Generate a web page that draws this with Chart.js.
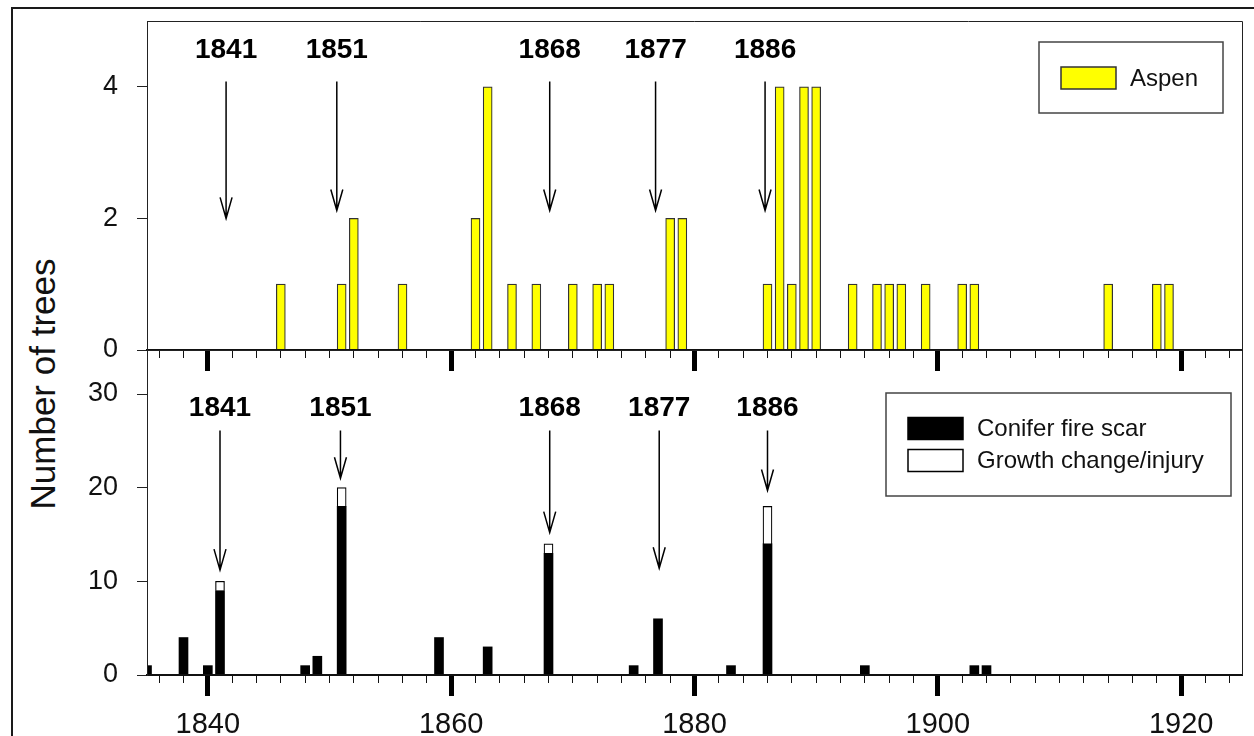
<!DOCTYPE html>
<html>
<head>
<meta charset="utf-8">
<script src="https://cdn.jsdelivr.net/npm/chart.js@4.4.1/dist/chart.umd.min.js"></script>
<style>
  html, body { margin: 0; padding: 0; background: #fff; }
  #wrap { position: relative; width: 1254px; height: 736px; overflow: hidden; }
  #wrap canvas { position: absolute; left: 0; top: 0; }
  #frame { position: absolute; left: 11px; top: 7px; width: 1300px; height: 800px; border: 2px solid #1a1a1a; }
  #ytitle {
    position: absolute; left: 42px; top: 384px;
    transform: translate(-50%, -50%) rotate(-90deg);
    font: 35px "Liberation Sans", Arial, sans-serif; line-height: 1;
    white-space: nowrap; color: #111;
  }
</style>
</head>
<body>
<div id="wrap">
  <div id="frame"></div>
  <div id="ytitle">Number of trees</div>
  <canvas id="topChart" width="1254" height="736"></canvas>
  <canvas id="bottomChart" width="1254" height="736"></canvas>
</div>
<script>
// aspen (top panel)
const aspenYears = [1846, 1851, 1852, 1856, 1862, 1863, 1865, 1867, 1870, 1872, 1873, 1878, 1879,
  1886, 1887, 1888, 1889, 1890, 1893, 1895, 1896, 1897, 1899, 1902, 1903, 1914, 1918, 1919];
const aspenCounts = [1, 1, 2, 1, 2, 4, 1, 1, 1, 1, 1, 2, 2,
  1, 4, 1, 4, 4, 1, 1, 1, 1, 1, 1, 1, 1, 1, 1];

// conifers (bottom panel)
const scarYears = [1835, 1838, 1840, 1841, 1848, 1849, 1851, 1859, 1863, 1868, 1875, 1877, 1883, 1886, 1894, 1903, 1904];
const scarCounts = [1, 4, 1, 9, 1, 2, 18, 4, 3, 13, 1, 6, 1, 14, 1, 1, 1];
const injuryYears = [1841, 1851, 1868, 1886];
const injuryCounts = [1, 2, 1, 4];

// fire year arrows
const fireYears = ["1841", "1851", "1868", "1877", "1886"];
const topArrowX = [1841.5, 1850.6, 1868.1, 1876.8, 1885.8];
const topArrowTip = [2.0, 2.12, 2.12, 2.12, 2.12];
const bottomArrowX = [1841, 1850.9, 1868.1, 1877.1, 1886];
const bottomArrowTip = [11.2, 21.0, 15.2, 11.4, 19.7];

// axes
const majorYears = [1840, 1860, 1880, 1900, 1920];
const minorYears = [];
for (let yr = 1836; yr <= 1924; yr += 2) minorYears.push(yr);
const topYTicks = [0, 2, 4];
const bottomYTicks = [0, 10, 20, 30];

const FONT = '"Liberation Sans", Arial, sans-serif';
Chart.defaults.font.family = FONT;
Chart.defaults.color = "#111";

function toPoints(xs, ys) {
  return xs.map((x, i) => ({ x: x, y: ys[i] }));
}

function setTicks(values) {
  return (scale) => { scale.ticks = values.map((v) => ({ value: v })); };
}

function xScales(showLabels) {
  return {
    x: {
      type: "linear", axis: "x", min: 1835, max: 1925, bounds: "data",
      offset: false, stacked: true, position: { y: 0 },
      afterBuildTicks: setTicks(minorYears),
      grid: { drawOnChartArea: false, tickLength: 7, tickWidth: 1, tickColor: "#111", offset: false },
      border: { display: true, width: 2, color: "#111", z: 2 },
      ticks: { display: false },
    },
    xMajor: {
      type: "linear", axis: "x", min: 1835, max: 1925, bounds: "data",
      offset: false, position: { y: 0 },
      afterBuildTicks: setTicks(majorYears),
      grid: { drawOnChartArea: false, tickLength: 21, tickWidth: 5, tickColor: "#000", offset: false },
      border: { display: false },
      ticks: {
        display: showLabels, autoSkip: false, maxRotation: 0, padding: 12,
        color: "#111", font: { size: 29 },
        callback: (v) => String(v),
      },
    },
  };
}

function yScale(max, ticks) {
  return {
    min: 0, max: max, bounds: "data",
    afterBuildTicks: setTicks(ticks),
    afterFit: (scale) => {
      scale.width = 135;
      scale.paddingTop = 0;
      scale.paddingBottom = 0;
    },
    grid: { drawOnChartArea: false, tickLength: 10, tickWidth: 1, tickColor: "#222" },
    border: { display: true, width: 1, color: "#222", z: 2 },
    ticks: { padding: 19, color: "#111", font: { size: 27 }, callback: (v) => String(v) },
  };
}

function arrowPlugin(xs, tips, labelY, arrowTop) {
  return {
    id: "fireArrows",
    afterDatasetsDraw(chart) {
      const { ctx } = chart;
      const x = chart.scales.x;
      const y = chart.scales.y;
      ctx.save();
      ctx.strokeStyle = "#000";
      ctx.fillStyle = "#000";
      ctx.lineWidth = 1.5;
      ctx.font = "bold 28px " + FONT;
      ctx.textAlign = "center";
      ctx.textBaseline = "middle";
      fireYears.forEach((label, i) => {
        const px = x.getPixelForValue(xs[i]);
        const y0 = y.getPixelForValue(arrowTop);
        const y1 = y.getPixelForValue(tips[i]);
        ctx.beginPath();
        ctx.moveTo(px, y0);
        ctx.lineTo(px, y1);
        ctx.moveTo(px - 6, y1 - 21);
        ctx.lineTo(px, y1);
        ctx.lineTo(px + 6, y1 - 21);
        ctx.stroke();
        ctx.fillText(label, px, y.getPixelForValue(labelY));
      });
      ctx.restore();
    },
  };
}

// box legend + top/right frame lines
function framePlugin(box) {
  return {
    id: "frameLegend",
    afterDraw(chart) {
      const { ctx, chartArea: a } = chart;
      ctx.save();
      ctx.strokeStyle = "#222";
      ctx.lineWidth = 1;
      ctx.beginPath();
      ctx.moveTo(a.left, a.top + 0.5);
      ctx.lineTo(a.right + 0.5, a.top + 0.5);
      ctx.lineTo(a.right + 0.5, a.bottom);
      ctx.stroke();

      const left = a.right - box.fromRight;
      const top = a.top + box.fromTop;
      ctx.strokeStyle = "#444";
      ctx.lineWidth = 1.5;
      ctx.strokeRect(left, top, box.width, box.height);
      ctx.font = "24px " + FONT;
      ctx.textAlign = "left";
      ctx.textBaseline = "middle";
      chart.data.datasets.forEach((ds, i) => {
        const cy = top + box.firstRow + i * box.rowGap;
        ctx.fillStyle = ds.backgroundColor;
        ctx.fillRect(left + 22, cy - 11, 55, 22);
        ctx.strokeStyle = ds.borderColor;
        ctx.lineWidth = 1.5;
        ctx.strokeRect(left + 22, cy - 11, 55, 22);
        ctx.fillStyle = "#111";
        ctx.fillText(ds.label, left + 91, cy + 1);
      });
      ctx.restore();
    },
  };
}

new Chart(document.getElementById("topChart"), {
  type: "bar",
  data: {
    datasets: [
      {
        label: "Aspen",
        data: toPoints(aspenYears, aspenCounts),
        backgroundColor: "#ffff00",
        borderColor: "#333",
        borderWidth: 1.2,
        barThickness: 9,
      },
    ],
  },
  options: {
    responsive: false,
    animation: false,
    events: [],
    layout: { padding: { left: 12, right: 12, top: 21, bottom: 386 } },
    plugins: { legend: { display: false }, tooltip: { enabled: false } },
    scales: Object.assign(xScales(false), { y: yScale(5, topYTicks) }),
  },
  plugins: [
    arrowPlugin(topArrowX, topArrowTip, 4.56, 4.08),
    framePlugin({ fromRight: 203, fromTop: 21, width: 184, height: 71, firstRow: 36, rowGap: 32 }),
  ],
});

new Chart(document.getElementById("bottomChart"), {
  type: "bar",
  data: {
    datasets: [
      {
        label: "Conifer fire scar",
        data: toPoints(scarYears, scarCounts),
        backgroundColor: "#000000",
        borderColor: "#000000",
        borderWidth: 0,
        barThickness: 9,
      },
      {
        label: "Growth change/injury",
        data: toPoints(injuryYears, injuryCounts),
        backgroundColor: "#ffffff",
        borderColor: "#000000",
        borderWidth: 1.2,
        barThickness: 9,
      },
    ],
  },
  options: {
    responsive: false,
    animation: false,
    events: [],
    layout: { padding: { left: 12, right: 12, top: 350, bottom: 61 } },
    plugins: { legend: { display: false }, tooltip: { enabled: false } },
    scales: Object.assign(xScales(true), {
      y: Object.assign(yScale(34.7, bottomYTicks), { stacked: true }),
    }),
  },
  plugins: [
    arrowPlugin(bottomArrowX, bottomArrowTip, 28.5, 26.1),
    framePlugin({ fromRight: 356, fromTop: 43, width: 345, height: 103, firstRow: 35.5, rowGap: 32 }),
  ],
});
</script>
</body>
</html>
